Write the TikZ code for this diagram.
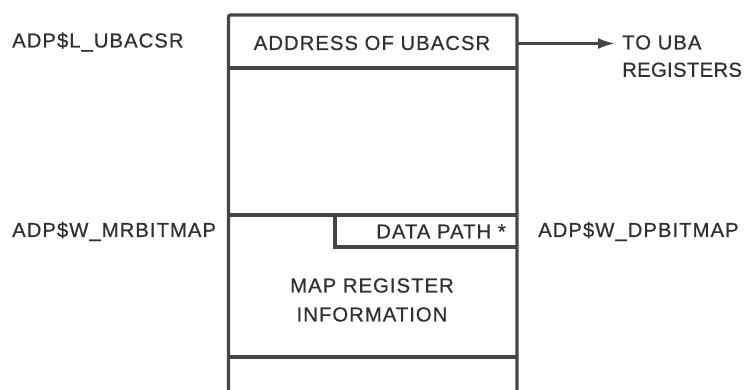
\documentclass[tikz,border=0pt]{standalone}
\usepackage{fontspec}
\setmainfont[LetterSpace=5,FakeBold=0.6]{Liberation Sans}
\usetikzlibrary{arrows.meta}
\definecolor{ink}{HTML}{454545}
\definecolor{txt}{HTML}{303030}
\begin{document}
\begin{tikzpicture}[x=1pt,y=1pt,
  rule/.style={draw=ink,line width=3.2pt},
  lbl/.style={text=txt,font=\fontsize{20.3}{29}\selectfont,inner sep=0pt},
  conn/.style={draw=ink,line width=2.6pt,-{Latex[length=17pt,width=11pt]},shorten >=7pt}]
\useasboundingbox (0,0) rectangle (746,390);
% outer box (open at bottom)
\draw[rule,rounded corners=2pt] (228.5,0) -- (228.5,375) -- (517,375) -- (517,0);
\draw[rule] (228.5,322) -- (517,322);
\draw[rule] (228.5,175) -- (517,175);
\draw[rule] (335,175) -- (335,143) -- (517,143);
\draw[rule] (228.5,33) -- (517,33);
% texts
\node[lbl,anchor=west] (ubacsr) at (12,348) {ADP\$L\_UBACSR};
\node[lbl] (addr) at (372,347) {ADDRESS OF UBACSR};
\coordinate (arrS) at (517,346.5);
\node[lbl,anchor=west] (touba) at (622,347.5) {TO UBA};
\node[lbl,anchor=north west,inner ysep=12.5pt,inner xsep=0pt] (regs) at (touba.south west) {\addfontfeature{LetterSpace=1.5}REGISTERS};
\draw[conn] (arrS) -- (arrS -| touba.west);
\node[lbl,anchor=west] (mrbit) at (12,158.5) {ADP\$W\_MRBITMAP};
\node[lbl,anchor=east] (dpath) at (506,158.5) {DATA PATH *};
\node[lbl,anchor=west] (dpbit) at (538,158.5) {ADP\$W\_DPBITMAP};
\node[lbl,align=center] (mapreg) at (372,90) {MAP REGISTER\\INFORMATION};
\end{tikzpicture}
\end{document}
